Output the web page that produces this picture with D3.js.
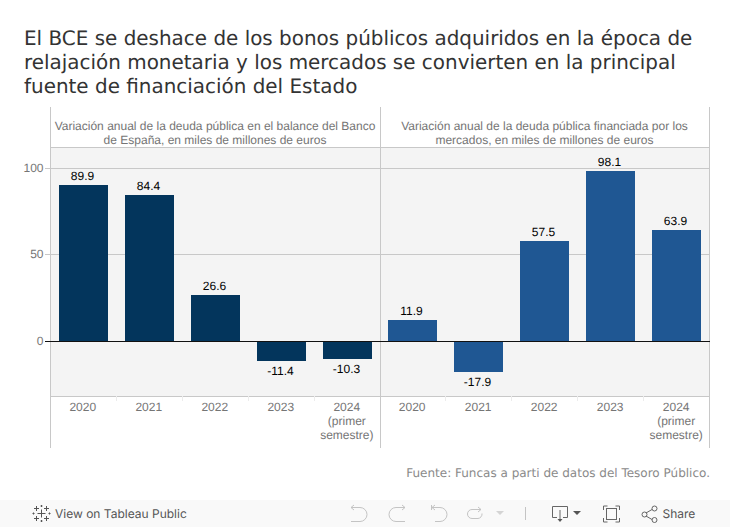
<!DOCTYPE html>
<html><head><meta charset="utf-8">
<script src="https://cdn.jsdelivr.net/npm/d3@7/dist/d3.min.js"></script>
<style>html,body{margin:0;padding:0;background:#fff}svg{display:block;opacity:.999;text-rendering:geometricPrecision}</style></head>
<body><svg id="c" width="730" height="527"></svg>
<script>
const titleLines=["El BCE se deshace de los bonos públicos adquiridos en la época de","relajación monetaria y los mercados se convierten en la principal","fuente de financiación del Estado"];
const categories=["2020","2021","2022","2023","2024"];
const categoryLines=[["2020"],["2021"],["2022"],["2023"],["2024","(primer","semestre)"]];
const bancoValues=[89.9,84.4,26.6,-11.4,-10.3];
const mercadosValues=[11.9,-17.9,57.5,98.1,63.9];
const bancoHeader=["Variación anual de la deuda pública en el balance del Banco","de España, en miles de millones de euros"];
const mercadosHeader=["Variación anual de la deuda pública financiada por los","mercados, en miles de millones de euros"];
const yTicks=[0,50,100];
const source="Fuente: Funcas a parti de datos del Tesoro Público.";
const svg=d3.select("#c");
const sans="'Liberation Sans',Arial,sans-serif", dj="'DejaVu Sans',sans-serif";
svg.append("rect").attr("width",730).attr("height",527).attr("fill","#fff");
svg.append("g").selectAll("text").data(titleLines).join("text")
 .attr("x",24).attr("y",(d,i)=>45+i*24).attr("font-family",dj).attr("font-size",19.94).attr("fill","#333").text(d=>d);
const y=d3.scaleLinear().domain([-31.8,111.5]).range([396,148]);
const panels=[{x0:50.5,x1:380.5,band:50.5,catOff:-.7,vals:bancoValues,head:bancoHeader,col:"#03355c"},{x0:380.5,x1:709.5,band:379.5,catOff:-.3,vals:mercadosValues,head:mercadosHeader,col:"#1f5793"}];
const G="#c8c8c8";
panels.forEach(p=>{
 const x=d3.scaleBand().domain(categories).range([p.band,p.band+330]).paddingInner(17/66).paddingOuter(8.5/66);
 const g=svg.append("g");
 g.append("rect").attr("x",p.x0).attr("y",148).attr("width",p.x1-p.x0).attr("height",248).attr("fill","#f4f4f4");
 yTicks.filter(t=>t).forEach(t=>g.append("line").attr("x1",p.x0).attr("x2",p.x1).attr("y1",Math.round(y(t))+.5).attr("y2",Math.round(y(t))+.5).attr("stroke",G));
 [147.5,396.5].forEach(v=>g.append("line").attr("x1",p.x0).attr("x2",p.x1).attr("y1",v).attr("y2",v).attr("stroke",G));
 g.selectAll("text.h").data(p.head).join("text").attr("x",(p.x0+p.x1)/2-.5).attr("y",(d,i)=>130+i*14).attr("text-anchor","middle").attr("font-family",sans).attr("font-size",12).attr("fill","#757575").text(d=>d);
 g.selectAll("rect.b").data(p.vals).join("rect").attr("class","b").attr("x",(d,i)=>x(categories[i])).attr("width",x.bandwidth())
  .attr("y",d=>y(Math.max(d,0))).attr("height",d=>Math.abs(y(d)-y(0))).attr("fill",p.col).attr("shape-rendering","crispEdges");
 g.selectAll("text.v").data(p.vals).join("text").attr("class","v").attr("x",(d,i)=>x(categories[i])+x.bandwidth()/2-1)
  .attr("y",d=>d>=0?y(d)-5:y(d)+14).attr("text-anchor","middle").attr("font-family",sans).attr("font-size",12).attr("fill","#000").text(d=>d.toFixed(1));
 categories.forEach((c,i)=>{
  const cx=x(c)+x.bandwidth()/2;
  categoryLines[i].forEach((l,j)=>g.append("text").attr("x",cx+p.catOff).attr("y",411+j*14).attr("text-anchor","middle").attr("font-family",sans).attr("font-size",12).attr("fill","#757575").text(l));
  if(i>0)g.append("line").attr("x1",Math.floor(cx-33)+.5).attr("x2",Math.floor(cx-33)+.5).attr("y1",396).attr("y2",401).attr("stroke","#ececec");
 });
});
// frame
[50.5,380.5,709.5].forEach(a=>svg.append("line").attr("x1",a).attr("x2",a).attr("y1",107).attr("y2",448).attr("stroke",G));
svg.append("line").attr("x1",50).attr("x2",710).attr("y1",Math.round(y(0))+.5).attr("y2",Math.round(y(0))+.5).attr("stroke","#111");
yTicks.forEach(t=>{
 svg.append("text").attr("x",43.5).attr("y",y(t)+4).attr("text-anchor","end").attr("font-family",sans).attr("font-size",12).attr("fill","#757575").text(t);
 svg.append("line").attr("x1",45).attr("x2",50).attr("y1",Math.round(y(t))+.5).attr("y2",Math.round(y(t))+.5).attr("stroke",t?G:"#111");
});
svg.append("text").attr("x",710).attr("y",477).attr("text-anchor","end").attr("font-family",dj).attr("font-size",12).attr("fill","#8a8a8a").text(source);
// toolbar
svg.append("rect").attr("x",0).attr("y",500).attr("width",730).attr("height",27).attr("fill","#f9f9f9");
const tc=svg.append("g").attr("stroke","#555").attr("fill","none").attr("stroke-width",1);
const cross=(cx,cy,r)=>tc.append("path").attr("d",`M${cx} ${cy-r}V${cy+r}M${cx-r} ${cy}H${cx+r}`);
cross(41.5,513.5,4);
[[-5,-5],[5,-5],[-5,5],[5,5]].forEach(d=>cross(41.5+d[0],513.5+d[1],2.5));
[[-8,0],[8,0],[0,-7.5],[0,7.5]].forEach(d=>cross(41.5+d[0],513.5+d[1],1));
svg.append("text").attr("x",55).attr("y",518).attr("font-family","Inter,sans-serif").attr("font-size",12).attr("fill","#555").text("View on Tableau Public");
svg.append("text").attr("x",662.500).attr("y",518).attr("font-family","Inter,sans-serif").attr("font-size",12).attr("fill","#555").text("Share");
const ic=svg.append("g").attr("fill","none").attr("stroke","#c4c4c4").attr("stroke-width",1);
ic.append("path").attr("d","M351 507.500h9a6.500 6.500 0 0 1 0 14h-9M351 507.500l3-2.500M351 507.500l3 2.500");
ic.append("path").attr("d","M405 507.500h-9a6.500 6.500 0 0 0 0 14h9M405 507.500l-3-2.500M405 507.500l-3 2.500");
ic.append("path").attr("d","M431.500 505v5M432 507.500h8a6.500 6.500 0 0 1 0 14h-5M432 507.500l3-2.500M432 507.500l3 2.500");
ic.append("path").attr("d","M481 509.500h-9a4.500 4.500 0 0 0 0 9h6a4.500 4.500 0 0 0 4-5M481 509.500l-3-2.500M481 509.500l-3 2.500");
ic.append("path").attr("d","M496 511h8l-4 4z").attr("fill","#d4d4d4").attr("stroke","none");
ic.append("line").attr("x1",525.5).attr("x2",525.5).attr("y1",507).attr("y2",520);
const dk=svg.append("g").attr("fill","none").attr("stroke","#666").attr("stroke-width",1);
dk.append("path").attr("d","M557 517.500h-4.500v-11h15v11h-4.500M560 510v10");
dk.append("path").attr("d","M557.500 519h5l-2.500 3z").attr("fill","#555").attr("stroke","none");
dk.append("path").attr("d","M573 511h8l-4 4z").attr("fill","#555").attr("stroke","none");
dk.append("path").attr("d","M603.500 510v-4h4M615.500 506h4v4M619.500 518v4h-4M607.500 522h-4v-4");
dk.append("rect").attr("x",606.500).attr("y",508.500).attr("width",10).attr("height",11);
dk.append("path").attr("d","M646 513l6-3.500M646 516l6 3.500");
dk.append("circle").attr("cx",644.500).attr("cy",514.500).attr("r",2.500);
dk.append("circle").attr("cx",654.500).attr("cy",508.500).attr("r",2.500);
dk.append("circle").attr("cx",654.500).attr("cy",520).attr("r",2.500);
</script></body></html>
